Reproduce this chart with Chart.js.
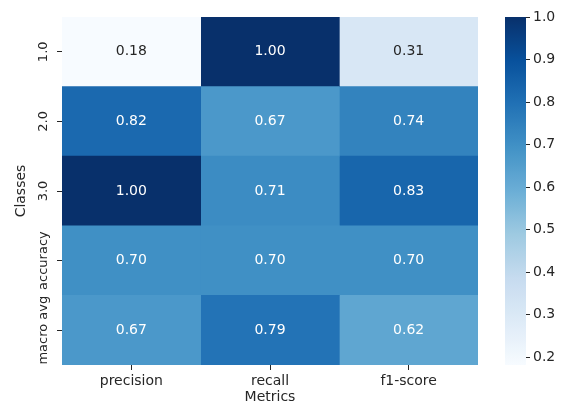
<!DOCTYPE html>
<html>
<head>
<meta charset="utf-8">
<script src="https://cdn.jsdelivr.net/npm/chart.js@4/dist/chart.umd.min.js"></script>
<style>
  html, body { margin: 0; padding: 0; background: #fff; }
  #wrap { width: 570px; height: 403px; }
</style>
</head>
<body>
<div id="wrap"><canvas id="myChart"></canvas></div>
<script>
var classes = ['1.0', '2.0', '3.0', 'accuracy', 'macro avg'];
var metrics = ['precision', 'recall', 'f1-score'];
var precision = [0.18, 0.82, 1.00, 0.70, 0.67];
var recall = [1.00, 0.67, 0.71, 0.70, 0.79];
var f1score = [0.31, 0.74, 0.83, 0.70, 0.62];
var colorbarTicks = [0.2, 0.3, 0.4, 0.5, 0.6, 0.7, 0.8, 0.9, 1.0];
var vmin = 0.18, vmax = 1.0;

// matplotlib "Blues"
var blues = [
  [247, 251, 255], [222, 235, 247], [198, 219, 239], [158, 202, 225],
  [107, 174, 214], [66, 146, 198], [33, 113, 181], [8, 81, 156], [8, 48, 107]
];
function bluesRgb(t) {
  t = Math.max(0, Math.min(1, t));
  var p = t * (blues.length - 1);
  var i = Math.min(Math.floor(p), blues.length - 2);
  var f = p - i;
  return blues[i].map(function (c, k) { return c + (blues[i + 1][k] - c) * f; });
}
function colorFor(v) {
  var c = bluesRgb((v - vmin) / (vmax - vmin));
  return 'rgb(' + c.map(Math.round).join(',') + ')';
}
function textColorFor(v) {
  var c = bluesRgb((v - vmin) / (vmax - vmin)).map(function (x) {
    x = x / 255;
    return x <= 0.03928 ? x / 12.92 : Math.pow((x + 0.055) / 1.055, 2.4);
  });
  var lum = 0.2126 * c[0] + 0.7152 * c[1] + 0.0722 * c[2];
  return lum > 0.408 ? '#262626' : '#ffffff';
}

var series = [precision, recall, f1score];
var datasets = series.map(function (vals, c) {
  return {
    label: metrics[c],
    values: vals,
    data: vals.map(function () { return [c, c + 1]; }),
    backgroundColor: vals.map(colorFor),
    borderWidth: 0,
    grouped: false,
    barPercentage: 1.0,
    categoryPercentage: 1.0
  };
});

var annotate = {
  id: 'annotate',
  afterDatasetsDraw: function (chart) {
    var ctx = chart.ctx;
    ctx.save();
    ctx.font = '14px "DejaVu Sans"';
    ctx.textAlign = 'center';
    ctx.textBaseline = 'middle';
    chart.data.datasets.forEach(function (ds, i) {
      chart.getDatasetMeta(i).data.forEach(function (bar, j) {
        var v = ds.values[j];
        var p = bar.getProps(['x', 'y', 'base'], true);
        ctx.fillStyle = textColorFor(v);
        ctx.fillText(v.toFixed(2), (p.x + p.base) / 2, p.y);
      });
    });
    ctx.restore();
  }
};

// vertical class labels on the y axis
var yLabels = {
  id: 'yLabels',
  afterDraw: function (chart) {
    var ctx = chart.ctx;
    var s = chart.scales.y;
    ctx.save();
    ctx.font = '13px "DejaVu Sans"';
    ctx.fillStyle = '#262626';
    ctx.textAlign = 'center';
    ctx.textBaseline = 'middle';
    classes.forEach(function (c, i) {
      var y = s.getPixelForValue(i);
      ctx.save();
      ctx.translate(s.right - 18, y);
      ctx.rotate(-Math.PI / 2);
      ctx.fillText(c, 0, 0);
      ctx.restore();
    });
    ctx.restore();
  }
};

// colorbar spans the full height of the heatmap
var colorbar = {
  id: 'colorbar',
  afterDraw: function (chart) {
    var ctx = chart.ctx;
    var area = chart.chartArea;
    var x0 = area.right + 27, w = 21;
    var top = area.top, bottom = area.bottom;
    function py(v) { return bottom - (v - vmin) / (vmax - vmin) * (bottom - top); }
    var g = ctx.createLinearGradient(0, bottom, 0, top);
    for (var k = 0; k <= 40; k++) {
      var c = bluesRgb(k / 40).map(Math.round);
      g.addColorStop(k / 40, 'rgb(' + c.join(',') + ')');
    }
    ctx.save();
    ctx.fillStyle = g;
    ctx.fillRect(x0, top, w, bottom - top);
    ctx.strokeStyle = '#262626';
    ctx.fillStyle = '#262626';
    ctx.lineWidth = 1;
    ctx.font = '14px "DejaVu Sans"';
    ctx.textAlign = 'left';
    ctx.textBaseline = 'middle';
    colorbarTicks.forEach(function (t) {
      var y = Math.round(py(t)) + 0.5;
      ctx.beginPath();
      ctx.moveTo(x0 + w, y);
      ctx.lineTo(x0 + w + 4, y);
      ctx.stroke();
      ctx.fillText(t.toFixed(1), x0 + w + 7, y);
    });
    ctx.restore();
  }
};

Chart.defaults.font.family = '"DejaVu Sans"';
Chart.defaults.color = '#262626';

var ctx = document.getElementById('myChart').getContext('2d');
var myChart = new Chart(ctx, {
  type: 'bar',
  data: { labels: classes, datasets: datasets },
  options: {
    indexAxis: 'y',
    responsive: true,
    maintainAspectRatio: false,
    animation: false,
    layout: { padding: { top: 17, right: 92, left: 0, bottom: 0 } },
    plugins: {
      legend: { display: false },
      tooltip: { enabled: false }
    },
    scales: {
      x: {
        type: 'linear',
        min: 0,
        max: 3,
        afterBuildTicks: function (scale) {
          scale.ticks = metrics.map(function (m, i) { return { value: i + 0.5 }; });
        },
        afterFit: function (scale) {
          scale.height = 38;
          scale.paddingLeft = 0;
          scale.paddingRight = 0;
        },
        ticks: {
          font: { size: 14 },
          padding: 3,
          callback: function (v, i) { return metrics[i]; }
        },
        grid: { drawOnChartArea: false, tickLength: 5, color: '#262626' },
        border: { display: false },
        title: { display: true, text: 'Metrics', font: { size: 14 }, padding: { top: 0, bottom: -3 } }
      },
      y: {
        type: 'category',
        ticks: { display: false },
        afterFit: function (scale) {
          scale.width = 62;
          scale.paddingTop = 0;
          scale.paddingBottom = 0;
        },
        grid: { drawOnChartArea: false, offset: false, tickLength: 5, color: '#262626' },
        border: { display: false },
        title: { display: true, text: 'Classes', font: { size: 14 }, padding: { top: 13, bottom: 0 } }
      }
    }
  },
  plugins: [annotate, yLabels, colorbar]
});
</script>
</body>
</html>
